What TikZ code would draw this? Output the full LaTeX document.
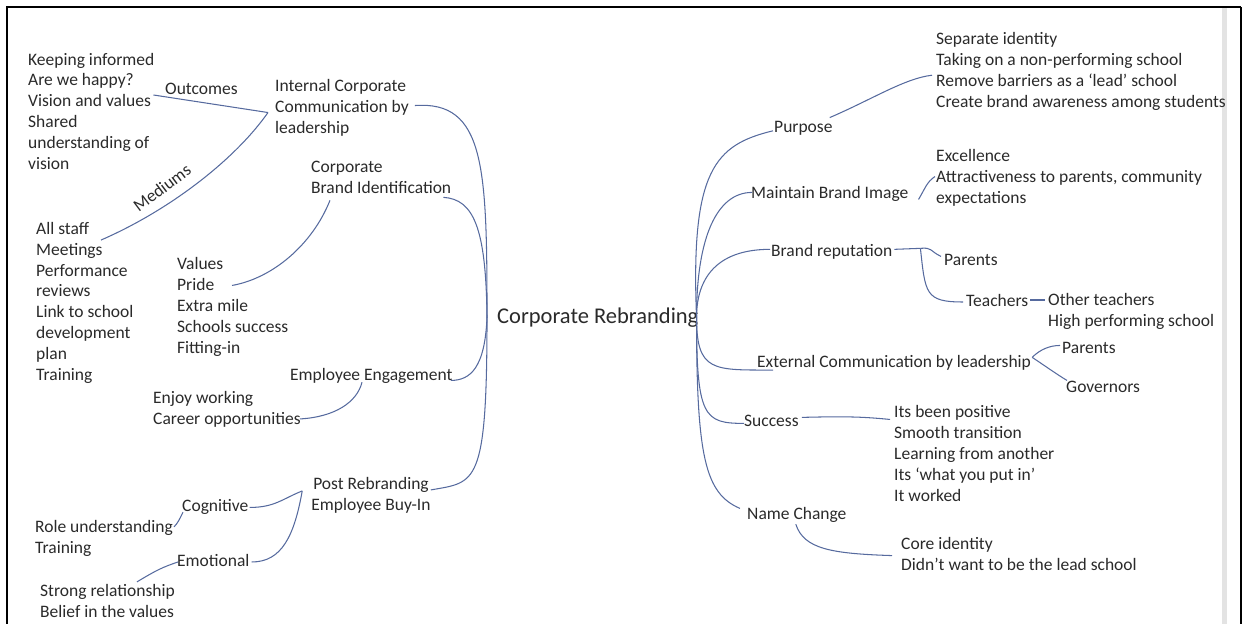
\documentclass[tikz,border=0pt]{standalone}
\usepackage{fontspec}
\setmainfont{Carlito}
\usetikzlibrary{calc}
\definecolor{linkblue}{RGB}{86,106,158}
\definecolor{ink}{RGB}{42,42,42}
\tikzset{
  txt/.style={inner sep=0pt, align=left, anchor=base west, text=ink, font=\fontsize{17.5}{20.8}\selectfont},
  link/.style={draw=linkblue, line width=1.05pt},
}
\begin{document}
\begin{tikzpicture}[x=1pt, y=-1pt]
\useasboundingbox (0,0) rectangle (1242,624);

% frame
\draw[line width=1.5pt] (7,7) -- (1241,7);
\draw[line width=2.5pt] (7,6) -- (7,624);
\draw[line width=1.5pt] (1241,7) -- (1241,624);
\fill[gray!22] (1222,8) rectangle (1227,624);

% centre
\node[txt, font=\fontsize{22.5}{26}\selectfont] (crb) at (497,323) {Corporate Rebranding};

% left side (multi-line nodes sit on their last line)
\node[txt] (outl) at (28,169) {Keeping informed\\Are we happy?\\Vision and values\\Shared\\understanding of\\vision};
\node[txt] (outc) at (165,94) {Outcomes};
\node[txt] (intc) at (275,133) {Internal Corporate\\Communication by\\leadership};
\node[txt, anchor=center, rotate=37] (med) at (162,188) {Mediums};
\node[txt] (cbi) at (311,193) {Corporate\\Brand Identification};
\node[txt] (medl) at (36,380) {All staff\\Meetings\\Performance\\reviews\\Link to school\\development\\plan\\Training};
\node[txt] (vals) at (177,353) {Values\\Pride\\Extra mile\\Schools success\\Fitting-in};
\node[txt] (eng) at (290,380) {Employee Engagement};
\node[txt] (enj) at (153,424) {Enjoy working\\Career opportunities};
\node[txt, align=center, anchor=base] (post) at (371,510) {Post Rebranding\\Employee Buy-In};
\node[txt] (cog) at (182,511) {Cognitive};
\node[txt] (role) at (35,553) {Role understanding\\Training};
\node[txt] (emo) at (177,566) {Emotional};
\node[txt] (strong) at (40,617) {Strong relationship\\Belief in the values};

% right side
\node[txt] (purp) at (774,132) {Purpose};
\node[txt] (purpl) at (936,107) {Separate identity\\Taking on a non-performing school\\Remove barriers as a ‘lead’ school\\Create brand awareness among students};
\node[txt] (mbi) at (751,198) {Maintain Brand Image};
\node[txt] (mbil) at (936,203) {Excellence\\Attractiveness to parents, community\\expectations};
\node[txt] (brep) at (771,256) {Brand reputation};
\node[txt] (par1) at (944,265) {Parents};
\node[txt] (tea) at (966,306) {Teachers};
\node[txt] (teal) at (1048,326) {Other teachers\\High performing school};
\node[txt] (ecl) at (757,367) {External Communication by leadership};
\node[txt] (par2) at (1062,353) {Parents};
\node[txt] (gov) at (1066,392) {Governors};
\node[txt] (succ) at (744,426) {Success};
\node[txt] (succl) at (894,501) {Its been positive\\Smooth transition\\Learning from another\\Its ‘what you put in’\\It worked};
\node[txt] (namec) at (747,519) {Name Change};
\node[txt] (namel) at (901,570) {Core identity\\Didn’t want to be the lead school};

% joints
\coordinate (ltrunk) at ($(crb.west)+(-10,0)$);
\coordinate (rtrunk) at ($(crb.east)+(-2,0)$);
\coordinate (intcj) at ($(intc.west)+(-7,5)$);
\coordinate (postj) at ($(post.west)+(-9,-4)$);
\coordinate (brj) at ($(brep.east)+(28,-3)$);
\coordinate (ecj) at ($(ecl.east)+(1,-5)$);

% left links
\draw[link] ($(outl.east)+(-1,-16)$) -- (intcj);
\draw[link] (intcj) .. controls +(-33,47) and +(69,-30) .. ($(medl.north west)+(65,18)$);
\draw[link] ($(intc.east)+(6,-2)$) .. controls +(70,-5) and +(0,-150) .. (ltrunk);
\draw[link] ($(cbi.south east)+(-8,4)$) .. controls +(30,2) and +(-1,-90) .. (ltrunk);
\draw[link] ($(cbi.south west)+(19,7)$) .. controls +(-18,45) and +(40,-7) .. ($(vals.north west)+(55,28)$);
\draw[link] ($(eng.east)+(-2,5)$) .. controls +(20,0) and +(-2,50) .. (ltrunk);
\draw[link] ($(eng.south west)+(72,-1)$) .. controls +(-5,20) and +(35,-2) .. ($(enj.east)+(-1,10)$);
\draw[link] ($(post.east)+(0,-5)$) .. controls +(45,-8) and +(0,170) .. (ltrunk);
\draw[link] ($(cog.east)+(1,1)$) .. controls +(25,0) and +(-20,8) .. (postj);
\draw[link] (postj) .. controls +(-8,45) and +(30,0) .. ($(emo.east)+(2,2)$);
\draw[link] ($(cog.south west)+(1,-2)$) .. controls +(-3,6) and +(4,-4) .. ($(role.north east)+(1,7)$);
\draw[link] ($(emo.west)+(1,2)$) .. controls +(-15,5) and +(20,-12) .. ($(strong.north west)+(97,-2)$);

% right links
\draw[link] (rtrunk) .. controls +(-6,-147) and +(-58,14) .. ($(purp.west)+(-1,3)$);
\draw[link] (rtrunk) .. controls +(0,-80) and +(-35,0) .. ($(mbi.west)+(1,-1)$);
\draw[link] (rtrunk) .. controls +(0,-25) and +(-65,0) .. ($(brep.west)+(-1,-2)$);
\draw[link] (rtrunk) .. controls +(0,55) and +(-60,0) .. ($(ecl.south west)+(16,0)$);
\draw[link] (rtrunk) .. controls +(0,100) and +(-40,0) .. ($(succ.west)+(0,3)$);
\draw[link] (rtrunk) .. controls +(0,140) and +(-35,-15) .. ($(namec.west)+(-7,-6)$);
\draw[link] ($(purp.north east)+(-3,-3)$) .. controls +(42,-18) and +(-27,3) .. ($(purpl.west)+(-4,4)$);
\draw[link] ($(mbi.east)+(10,6)$) .. controls +(6,-10) and +(-8,5) .. ($(mbil.west)+(-1,-1)$);
\draw[link] ($(brep.east)+(2,-2)$) -- (brj);
\draw[link] (brj) .. controls +(12,-1) and +(-12,-6) .. ($(par1.west)+(-3,-3)$);
\draw[link] (brj) .. controls +(5,45) and +(-38,0) .. ($(tea.west)+(-3,2)$);
\draw[link] ($(tea.east)+(2,0)$) -- ($(tea.east -| teal.west)+(-3,0)$);
\draw[link] (ecj) .. controls +(8,-8) and +(-10,0) .. ($(par2.west)+(-2,-2)$);
\draw[link] (ecj) .. controls +(12,8) and +(-10,-6) .. ($(gov.north west)+(1,0)$);
\draw[link] ($(succ.east)+(3,-3)$) .. controls +(40,-1) and +(-30,-3) .. ($(succl.north west)+(-4,14)$);
\draw[link] ($(namec.south)+(-1,2)$) .. controls +(8,25) and +(-60,-2) .. ($(namel.west)+(-9,2)$);
\end{tikzpicture}
\end{document}
